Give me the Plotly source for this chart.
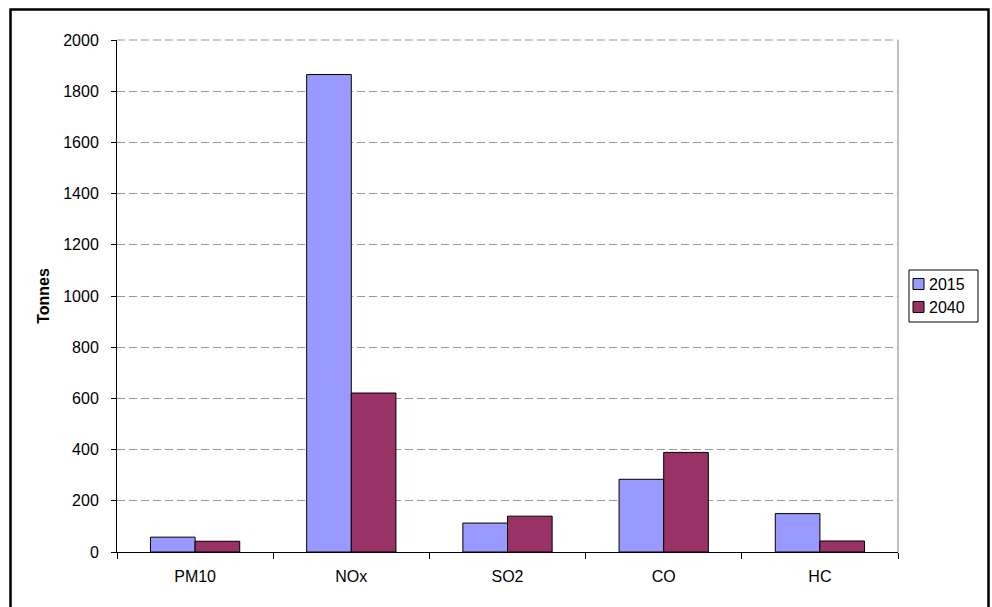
import plotly.graph_objects as go

categories = ["PM10", "NOx", "SO2", "CO", "HC"]
series_names = ["2015", "2040"]
values_2015 = [58, 1865, 113, 284, 150]
values_2040 = [42, 621, 140, 389, 43]
series_colors = ["#9999FF", "#993366"]
y_ticks = [0, 200, 400, 600, 800, 1000, 1200, 1400, 1600, 1800, 2000]

W, H = 992, 607
L, R, T, B = 117, 898, 40, 552
FONT = "Liberation Sans, Arial, sans-serif"
FS = 16

fig = go.Figure()
for name, vals, col in zip(series_names, [values_2015, values_2040], series_colors):
    fig.add_bar(x=categories, y=vals, name=name,
                marker=dict(color=col, line=dict(color="black", width=1)))


def px_x(p):
    return (p - L) / (R - L)


def px_y(p):
    return (B - p) / (B - T)


shapes = [
    # plot-area right border
    dict(type="line", xref="paper", yref="paper", x0=1, x1=1, y0=0, y1=1,
         line=dict(color="#808080", width=1)),
    # top gridline at 2000
    dict(type="line", xref="paper", yref="paper", x0=0, x1=1, y0=1, y1=1,
         line=dict(color="#999999", width=1, dash="8px,4px")),
    # outer chart frame
    dict(type="rect", xref="paper", yref="paper",
         x0=px_x(10.5), x1=px_x(988.5), y0=px_y(640), y1=px_y(9.5),
         line=dict(color="black", width=2.5)),
    # legend box
    dict(type="rect", xref="paper", yref="paper",
         x0=px_x(909), x1=px_x(978), y0=px_y(322), y1=px_y(270),
         line=dict(color="black", width=1), fillcolor="white"),
]
annotations = []
item_y = [284, 307]
for name, col, cy in zip(series_names, series_colors, item_y):
    shapes.append(dict(type="rect", xref="paper", yref="paper",
                       x0=px_x(913), x1=px_x(924), y0=px_y(cy + 5.5), y1=px_y(cy - 5.5),
                       line=dict(color="black", width=1), fillcolor=col))
    annotations.append(dict(text=name, xref="paper", yref="paper",
                            x=px_x(927), y=px_y(cy), xanchor="left", yanchor="middle",
                            showarrow=False, font=dict(family=FONT, size=FS, color="black")))

fig.update_layout(
    width=W, height=H,
    margin=dict(l=L, r=W - R, t=T, b=H - B, autoexpand=False),
    paper_bgcolor="white", plot_bgcolor="white",
    barmode="group", bargap=1.5 / 3.5, bargroupgap=0,
    font=dict(family=FONT, size=FS, color="black"),
    showlegend=False,
    xaxis=dict(showgrid=False, showline=True, linecolor="black", linewidth=1,
               ticks="outside", tickson="boundaries", ticklen=6, tickcolor="black",
               tickfont=dict(size=FS), ticklabelstandoff=10),
    yaxis=dict(range=[0, 2000], tickvals=y_ticks, showgrid=True,
               gridcolor="#999999", griddash="8px,4px", gridwidth=1,
               showline=True, linecolor="black", linewidth=1,
               ticks="outside", ticklen=5, tickcolor="black",
               tickfont=dict(size=FS), zeroline=False, ticklabelstandoff=9,
               title=dict(text="<b>Tonnes</b>", font=dict(size=FS), standoff=9)),
    shapes=shapes,
    annotations=annotations,
)

fig.write_html("out.html", config={"displayModeBar": False},
               post_script="document.body.style.margin='0px';document.body.style.overflow='hidden';")
